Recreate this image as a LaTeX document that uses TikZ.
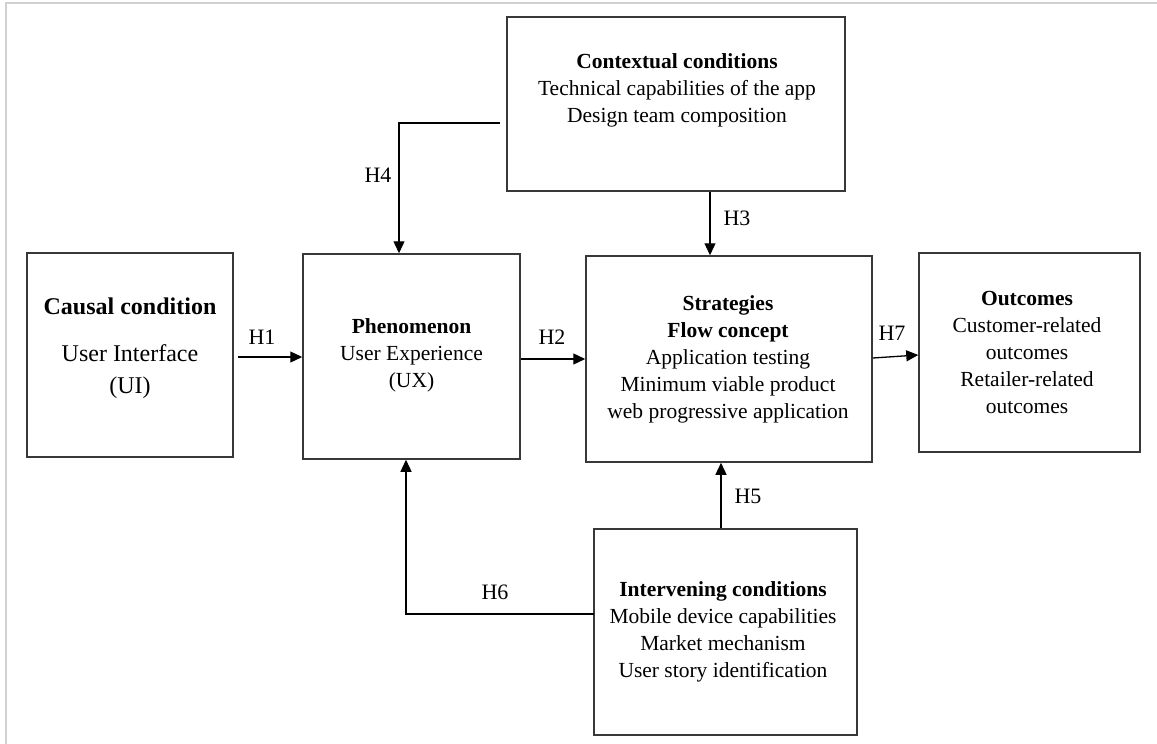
\documentclass[tikz,border=0pt]{standalone}
\usepackage{fontspec}
\setmainfont{Liberation Serif}
\usetikzlibrary{arrows.meta}
\tikzset{
  box/.style={draw=black!78, line width=1.5pt, inner sep=0pt},
  txt/.style={align=center, font=\fontsize{21.5}{27}\selectfont},
  lbl/.style={font=\fontsize{22}{26}\selectfont, inner sep=0pt},
  arr/.style={line width=1.3pt, -{Triangle[length=12pt,width=11pt]}},
  frame/.style={draw=black!18, line width=2pt}
}
\begin{document}
\begin{tikzpicture}[x=1pt,y=-1pt]
\useasboundingbox (0,0) rectangle (1157,744);
\draw[frame] (6,744) -- (6,3) -- (1157,3);
% boxes
\node[box, minimum width=206pt, minimum height=204pt] (causal) at (130,355) {};
\node[box, minimum width=217pt, minimum height=205pt] (phen) at (411.5,356.5) {};
\node[box, minimum width=286pt, minimum height=206pt] (strat) at (729,359) {};
\node[box, minimum width=221pt, minimum height=199pt] (out) at (1029.5,352.5) {};
\node[box, minimum width=338pt, minimum height=174pt] (ctx) at (676,104) {};
\node[box, minimum width=263pt, minimum height=206pt] (intv) at (725.5,632) {};
% texts
\node[txt, font=\fontsize{24}{32}\selectfont] (causalt) at (130,348) {\textbf{Causal condition}\\[15pt]User Interface\\(UI)};
\node[txt] (phent) at (411.5,355.5) {\textbf{Phenomenon}\\User Experience\\(UX)};
\node[txt] (stratt) at (728,359) {\textbf{Strategies}\\\textbf{Flow concept}\\Application testing\\Minimum viable product\\web progressive application};
\node[txt] (outt) at (1027,352) {\textbf{Outcomes}\\Customer-related\\outcomes\\Retailer-related\\outcomes};
\node[txt] (ctxt) at (677,90) {\textbf{Contextual conditions}\\Technical capabilities of the app\\Design team composition};
\node[txt] (intvt) at (723,632) {\textbf{Intervening conditions}\\Mobile device capabilities\\Market mechanism\\User story identification};
% connectors
\draw[arr] ([xshift=4pt]causal.east |- 0,357) -- (phen.west |- 0,357);
\draw[arr] (phen.east |- strat.west) -- (strat.west);
\draw[arr] (strat.east |- 0,358) -- (out.west |- 0,355);
\draw[arr] ([xshift=34pt]ctx.south) -- ([xshift=34pt]ctx.south |- strat.north);
\draw[arr] ([xshift=-4.5pt]intv.north) -- ([xshift=-4.5pt]intv.north |- strat.south);
\coordinate (h4s) at (500,123);
\draw[arr] (h4s) -| ([xshift=-12.5pt]phen.north);
\coordinate (h6s) at (594,614);
\draw[arr] (h6s) -| ([xshift=-5.5pt]phen.south);
% labels
\node[lbl] (l1) at (262,337) {H1};
\node[lbl] (l2) at (552,337) {H2};
\node[lbl] (l7) at (892,333) {H7};
\node[lbl] (l3) at (737,218) {H3};
\node[lbl] (l5) at (748,496) {H5};
\node[lbl] (l4) at (378,175) {H4};
\node[lbl] (l6) at (495,592) {H6};
\end{tikzpicture}
\end{document}
